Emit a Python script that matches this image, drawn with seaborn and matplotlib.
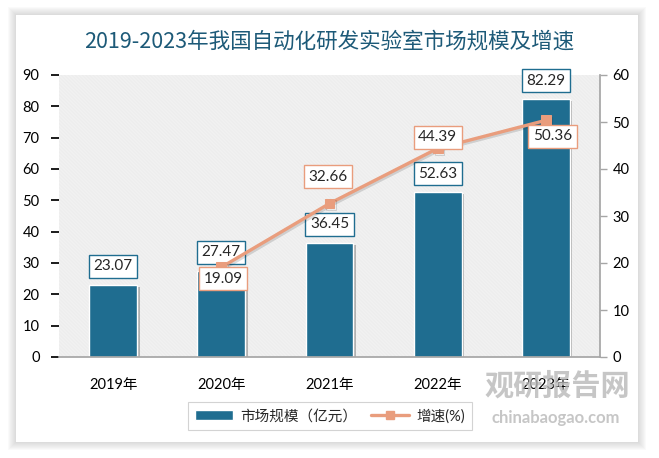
import numpy as np
import pandas as pd
import seaborn as sns
import matplotlib.pyplot as plt
from matplotlib.patches import Rectangle
from matplotlib.lines import Line2D
from matplotlib import patheffects as pe

# data
years = ['2019年', '2020年', '2021年', '2022年', '2023年']
market_size = [23.07, 27.47, 36.45, 52.63, 82.29]
growth_years = ['2020年', '2021年', '2022年', '2023年']
growth_rate = [19.09, 32.66, 44.39, 50.36]

bar_color = '#1f6d90'
line_color = '#e99d7d'
W, H = 659, 458

sns.set_theme(style='white')
plt.rcParams['font.family'] = ['Lato', 'Noto Sans CJK SC', 'DejaVu Sans']
plt.rcParams['hatch.linewidth'] = 0.4

fig = plt.figure(figsize=(W / 100, H / 100), dpi=100)
fig.patch.set_facecolor('white')

# card with soft shadow
cx0, cy0, cx1, cy1 = 16, 15, 638, 442
for k in range(8, 0, -1):
    fig.patches.append(Rectangle(((cx0 - k) / W, 1 - (cy1 + k) / H),
                                 (cx1 - cx0 + 2 * k) / W, (cy1 - cy0 + 2 * k) / H,
                                 transform=fig.transFigure, facecolor='#808080',
                                 alpha=0.035, lw=0, zorder=-2))
fig.patches.append(Rectangle((cx0 / W, 1 - cy1 / H), (cx1 - cx0) / W, (cy1 - cy0) / H,
                             transform=fig.transFigure, facecolor='white', lw=0, zorder=-1))

ax = fig.add_axes([59 / W, 1 - 357 / H, 541 / W, 282 / H])
ax.set_facecolor('white')
ax.add_patch(Rectangle((0, 0), 1, 1, transform=ax.transAxes, facecolor='white',
                       edgecolor='#e4e4e4', hatch='\\' * 24, lw=0, zorder=0))

df = pd.DataFrame({'year': years, 'size': market_size})
sns.barplot(data=df, x='year', y='size', color=bar_color, saturation=1, width=0.44,
            edgecolor='white', linewidth=1, ax=ax, zorder=2)
for p in ax.patches[1:]:
    p.set_path_effects([pe.SimplePatchShadow(offset=(2, -1.5), shadow_rgbFace='#555555', alpha=0.4),
                        pe.Normal()])

ax.set_ylim(0, 90)
ax.set_yticks(range(0, 91, 10))
ax.set_xlim(-0.5, len(years) - 0.5)
ax.set_xlabel('')
ax.set_ylabel('')
for s in ['left', 'top', 'right']:
    ax.spines[s].set_visible(False)
ax.spines['bottom'].set_color('#a6a6a6')
ax.tick_params(axis='y', left=False, labelsize=10.5, pad=8, colors='black')
ax.tick_params(axis='x', bottom=False, labelsize=10.5, pad=9, colors='black')

for i, v in enumerate(market_size):
    ax.annotate(f'{v:.2f}', (i, v), xytext=(0, 13.3), textcoords='offset points',
                ha='center', va='center', fontsize=11, zorder=5,
                bbox=dict(boxstyle='square,pad=0.3', fc='white', ec=bar_color, lw=1))

ax2 = ax.twinx()
gx = [years.index(y) for y in growth_years]
sns.lineplot(x=gx, y=growth_rate, ax=ax2, color=line_color, lw=2.4, marker='s',
             markersize=7, markeredgecolor=line_color, sort=False, zorder=4,
             path_effects=[pe.SimpleLineShadow(offset=(1.2, -1.2), alpha=0.15), pe.Normal()])
ax2.set_ylim(0, 60)
ax2.set_yticks(range(0, 61, 10))
ax2.set_ylabel('')
for s in ['left', 'top', 'bottom']:
    ax2.spines[s].set_visible(False)
ax2.spines['right'].set_color('#a6a6a6')
ax2.tick_params(axis='y', right=True, length=5, width=1, labelsize=10.5, pad=4,
                labelcolor='black', color='#a6a6a6')

label_offsets = [(1.4, -8.2), (-1, 19.4), (0, 8), (4.7, -11.5)]
for x, v, off in zip(gx, growth_rate, label_offsets):
    ax2.annotate(f'{v:.2f}', (x, v), xytext=off, textcoords='offset points',
                 ha='center', va='center', fontsize=11, zorder=6,
                 bbox=dict(boxstyle='square,pad=0.3', fc='white', ec=line_color, lw=1))

fig.text(0.5, 1 - 42 / H, '2019-2023年我国自动化研发实验室市场规模及增速',
         ha='center', va='center', fontsize=15.5, color='#1d5a78',
         family=['Noto Sans CJK SC', 'DejaVu Sans'])

handles = [Rectangle((0, 0), 1, 1, fc=bar_color),
           Line2D([], [], color=line_color, lw=2.4, marker='s', markersize=6)]
leg = fig.legend(handles, ['市场规模（亿元）', '增速(%)'], loc='center',
                 bbox_to_anchor=(330 / W, 1 - 416 / H), ncol=2, frameon=True,
                 fancybox=False, edgecolor='#c8c8c8', fontsize=10.5, handlelength=2.6,
                 columnspacing=1.0, handletextpad=0.5, borderpad=0.45)
leg.get_frame().set_linewidth(0.8)

# watermark
fig.text(557 / W, 1 - 386 / H, '观研报告网', ha='center', va='center', fontsize=21,
         weight='bold', color='#b8b8b8', alpha=0.8, family=['Noto Sans CJK SC'])
fig.text(556 / W, 1 - 418 / H, 'chinabaogao.com', ha='center', va='center', fontsize=12,
         weight='bold', color='#b8b8b8', alpha=0.8)

fig.savefig('out.png', dpi=100)
